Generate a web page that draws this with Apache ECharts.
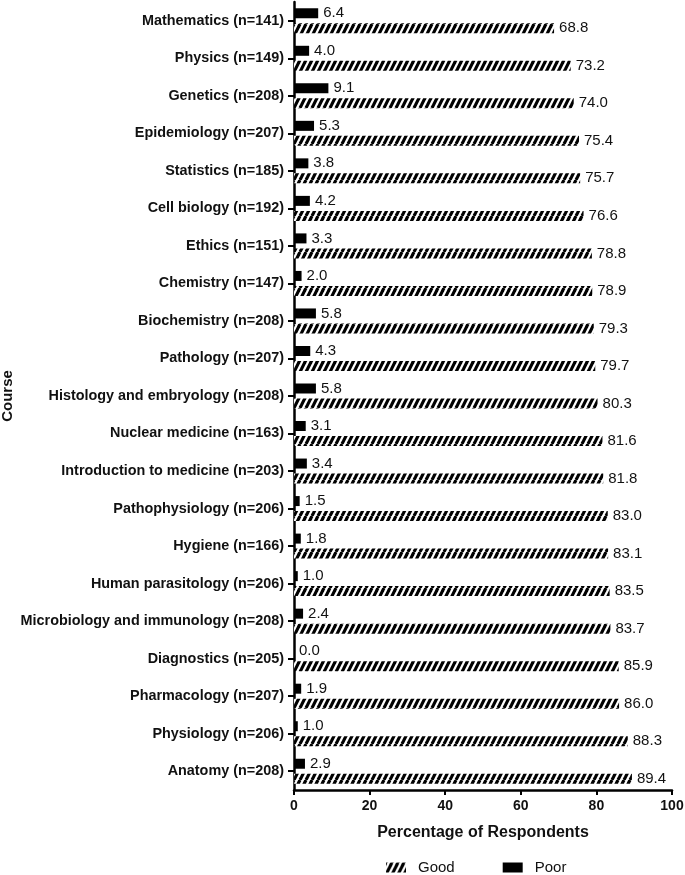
<!DOCTYPE html>
<html>
<head>
<meta charset="utf-8">
<script src="https://cdn.jsdelivr.net/npm/echarts@6/dist/echarts.min.js"></script>
<style>html,body{margin:0;padding:0;background:#fff;}#c{width:685px;height:875px;}</style>
</head>
<body>
<div id="c"></div>
<script>
const courses = ["Mathematics (n=141)","Physics (n=149)","Genetics (n=208)","Epidemiology (n=207)","Statistics (n=185)","Cell biology (n=192)","Ethics (n=151)","Chemistry (n=147)","Biochemistry (n=208)","Pathology (n=207)","Histology and embryology (n=208)","Nuclear medicine (n=163)","Introduction to medicine (n=203)","Pathophysiology (n=206)","Hygiene (n=166)","Human parasitology (n=206)","Microbiology and immunology (n=208)","Diagnostics (n=205)","Pharmacology (n=207)","Physiology (n=206)","Anatomy (n=208)"];
const poor = [6.4,4.0,9.1,5.3,3.8,4.2,3.3,2.0,5.8,4.3,5.8,3.1,3.4,1.5,1.8,1.0,2.4,0.0,1.9,1.0,2.9];
const good = [68.8,73.2,74.0,75.4,75.7,76.6,78.8,78.9,79.3,79.7,80.3,81.6,81.8,83.0,83.1,83.5,83.7,85.9,86.0,88.3,89.4];
const xTicks = [0,20,40,60,80,100];

function hatch(){
  const W=6,H=12;
  const cv=document.createElement('canvas');
  cv.width=W;cv.height=H;
  const ctx=cv.getContext('2d');
  ctx.fillStyle='#fff';ctx.fillRect(0,0,W,H);
  ctx.strokeStyle='#000';ctx.lineWidth=3.2;
  for(let k=-1;k<=1;k++){
    ctx.beginPath();ctx.moveTo(k*W,H);ctx.lineTo((k+1)*W,0);ctx.stroke();
  }
  return cv;
}
const hatchPat = {image: hatch(), repeat: 'repeat'};

const chart = echarts.init(document.getElementById('c'));
const font = 'Liberation Sans, Arial, sans-serif';
const labelCfg = {show:true, position:'right', distance:5, color:'#111', fontSize:15, fontFamily:font, formatter: p => p.value.toFixed(1)};
chart.setOption({
  animation:false,
  textStyle:{fontFamily:font},
  grid:{left:294, right:13, top:2, bottom:85, containLabel:false, outerBoundsMode:'none'},
  legend:{
    data:['Good','Poor'], left:381, top:855, itemWidth:20, itemHeight:10, itemGap:48,
    icon:'rect',
    textStyle:{fontSize:15, color:'#111', fontFamily:font, padding:[0,0,0,7]}
  },
  xAxis:{
    type:'value', min:0, max:100, interval:20,
    name:'Percentage of Respondents', nameLocation:'middle', nameGap:35,
    nameTextStyle:{fontSize:16, fontWeight:'bold', color:'#111', fontFamily:font},
    axisLine:{show:true, lineStyle:{color:'#000', width:2.5}},
    axisTick:{show:true, length:5, lineStyle:{color:'#000', width:2}},
    axisLabel:{fontSize:14, fontWeight:'bold', color:'#111', margin:9, fontFamily:font,
      formatter: v => xTicks.indexOf(v) >= 0 ? String(v) : ''},
    splitLine:{show:false}
  },
  yAxis:{
    type:'category', data:courses, inverse:true,
    name:'Course', nameLocation:'middle', nameGap:279, nameRotate:90, nameMoveOverlap:false,
    nameTextStyle:{fontSize:15, fontWeight:'bold', color:'#111', fontFamily:font},
    axisLine:{show:true, lineStyle:{color:'#000', width:2.5}},
    axisTick:{show:true, alignWithLabel:true, length:6, lineStyle:{color:'#000', width:2}},
    axisLabel:{fontSize:14.4, fontWeight:'bold', color:'#111', margin:10, fontFamily:font}
  },
  series:[
    {name:'Poor', type:'bar', data:poor, barWidth:10, barGap:'50%', barCategoryGap:'34%',
      itemStyle:{color:'#000'}, label:labelCfg},
    {name:'Good', type:'bar', data:good, barWidth:10, barGap:'50%', barCategoryGap:'34%',
      itemStyle:{color:hatchPat}, label:labelCfg}
  ]
});
</script>
</body>
</html>
